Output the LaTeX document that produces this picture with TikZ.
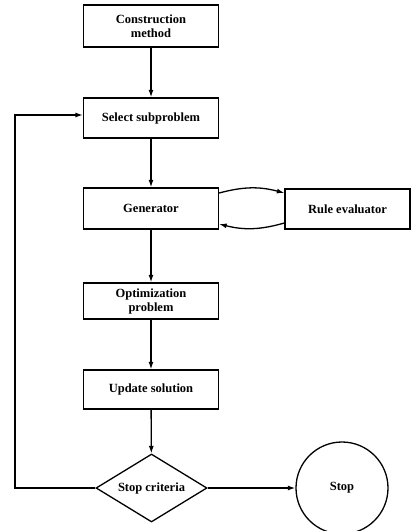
\documentclass[tikz,border=0pt]{standalone}
\usepackage{fontspec}
\setmainfont{Liberation Serif}
\usetikzlibrary{arrows.meta,shapes.geometric}
\begin{document}
\begin{tikzpicture}[x=1pt,y=-1pt,font=\fontsize{12.5}{13}\selectfont\bfseries,
  line width=1.3pt,
  box/.style={draw,minimum width=135pt,minimum height=40pt,align=center,inner sep=2pt},
  flow/.style={-{Latex[length=7.5pt,width=5pt]}}]
  \useasboundingbox (0,0) rectangle (411,531);
  \node[box,minimum height=42pt] (cm) at (151,26) {Construction\\[1pt]method};
  \node[box] (sel) at (151,118) {Select subproblem};
  \node[box,minimum height=41pt] (gen) at (151,208.5) {Generator};
  \node[box,minimum width=125pt] (rule) at (347.5,209) {Rule evaluator};
  \node[box,minimum height=36pt] (opt) at (151,301) {Optimization\\[1pt]problem};
  \node[box,minimum height=39pt] (upd) at (151,389.5) {Update solution};
  \node[draw,diamond,aspect=1.63,inner sep=0pt,minimum width=111pt,minimum height=68pt] (crit) at (151.5,488) {Stop criteria};
  \node[draw,circle,minimum size=92pt,inner sep=0pt] (stop) at (342,488) {Stop};
  \coordinate (back) at (15,488);% ritorno
  \draw[flow] (cm) -- (sel);
  \draw[flow] (sel) -- (gen);
  \draw[flow] ([yshift=15.5pt]gen.east) to[bend left=15] ([yshift=16pt]rule.west);% andata
  \draw[flow] ([yshift=-14pt]rule.west) to[bend left=15] ([yshift=-15.5pt]gen.east);% ritorno
  \draw[flow] (gen) -- (opt);
  \draw[flow] (opt) -- (upd);
  \draw[flow] (upd) -- (crit);
  \draw[flow] (crit) -- (stop);
  \draw[flow] (crit.west) -- (back) |- ([yshift=3pt]sel.west);
\end{tikzpicture}
\end{document}
